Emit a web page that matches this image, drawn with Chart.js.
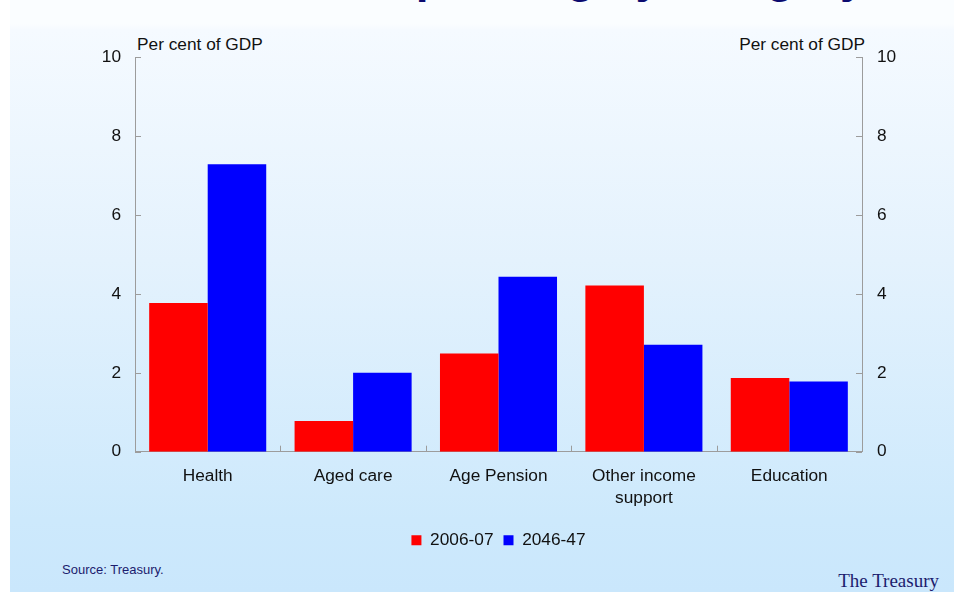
<!DOCTYPE html>
<html>
<head>
<meta charset="utf-8">
<script src="https://cdn.jsdelivr.net/npm/chart.js@4/dist/chart.umd.min.js"></script>
<style>
  html, body { margin: 0; padding: 0; background: #ffffff; }
  #page {
    position: relative; width: 954px; height: 592px; overflow: hidden;
    background: #ffffff;
  }
  #panel {
    position: absolute; left: 10px; top: 0; width: 944px; height: 592px;
    background: linear-gradient(to bottom, #fafdff 0px, #fafdff 24px, #f5faff 30px, #e4f2fd 260px, #cde9fc 520px, #cae7fc 592px);
  }
  #title {
    position: absolute; left: 0; width: 954px; top: -51px; text-align: center;
    font: bold 46px "Liberation Sans", Arial, sans-serif; color: #0b0b70;
    white-space: nowrap; padding-left: 18px; box-sizing: border-box;
  }
  .unit {
    position: absolute; top: 34px; font: 17.3px "Liberation Sans", Arial, sans-serif; color: #111;
    white-space: nowrap;
  }
  #unitL { left: 137px; }
  #unitR { right: 89px; }
  #source {
    position: absolute; left: 62px; top: 562px; font: 13px "Liberation Sans", Arial, sans-serif;
    color: #1c1c6e; white-space: nowrap;
  }
  #brand {
    position: absolute; right: 15px; top: 570px; font: 19px "Liberation Serif", "Times New Roman", serif;
    color: #1c1c6e; white-space: nowrap;
  }
  #wrap { position: absolute; left: 0; top: 0; width: 954px; height: 592px; }
</style>
</head>
<body>
<div id="page">
  <div id="panel"></div>
  <div id="title">Government spending by category</div>
  <div class="unit" id="unitL">Per cent of GDP</div>
  <div class="unit" id="unitR">Per cent of GDP</div>
  <div id="source">Source: Treasury.</div>
  <div id="brand">The Treasury</div>
  <div id="wrap"><canvas id="chart" width="954" height="592"></canvas></div>
</div>
<script>
// Spending as a share of GDP, by category
const categories = ['Health', 'Aged care', 'Age Pension', ['Other income', 'support'], 'Education'];
const seriesNames = ['2006-07', '2046-47'];
const spend2006 = [3.77, 0.78, 2.49, 4.21, 1.87];
const spend2046 = [7.28, 2.00, 4.43, 2.71, 1.78];
const yTicks = [0, 2, 4, 6, 8, 10];

const AXIS_GREY = '#9c9c9c';
const FONT = '"Liberation Sans", Arial, sans-serif';
const FONT_SIZE = 17.3;

// Short tick marks that point into the plot area
const innerTicks = {
  id: 'innerTicks',
  afterDatasetsDraw(chart) {
    const { ctx, chartArea: a, scales } = chart;
    const len = 6;
    ctx.save();
    ctx.strokeStyle = AXIS_GREY;
    ctx.lineWidth = 1;
    ctx.beginPath();
    yTicks.forEach(v => {
      const yl = Math.round(scales.y.getPixelForValue(v)) + 0.5;
      ctx.moveTo(a.left, yl); ctx.lineTo(a.left + len, yl);
      const yr = Math.round(scales.y2.getPixelForValue(v)) + 0.5;
      ctx.moveTo(a.right, yr); ctx.lineTo(a.right - len, yr);
    });
    for (let i = 0; i < categories.length - 1; i++) {
      const x = Math.round((scales.x.getPixelForValue(i) + scales.x.getPixelForValue(i + 1)) / 2) + 0.5;
      ctx.moveTo(x, a.bottom); ctx.lineTo(x, a.bottom - len);
    }
    ctx.stroke();
    ctx.restore();
  }
};

new Chart(document.getElementById('chart'), {
  type: 'bar',
  data: {
    labels: categories,
    datasets: [
      { label: seriesNames[0], data: spend2006, backgroundColor: '#ff0000', yAxisID: 'y' },
      { label: seriesNames[1], data: spend2046, backgroundColor: '#0000ff', yAxisID: 'y' }
    ]
  },
  options: {
    responsive: false,
    animation: false,
    devicePixelRatio: 1,
    categoryPercentage: 0.805,
    barPercentage: 1.0,
    layout: { padding: { left: 95, right: 52, top: 57, bottom: 33 } },
    plugins: {
      tooltip: { enabled: false },
      title: { display: false },
      legend: {
        position: 'bottom',
        labels: {
          boxWidth: 10, boxHeight: 10, padding: 10,
          color: '#111', font: { family: FONT, size: FONT_SIZE }
        }
      }
    },
    scales: {
      x: {
        grid: { display: false, drawTicks: false },
        border: { display: true, color: AXIS_GREY, width: 1 },
        ticks: { color: '#111', padding: 13, maxRotation: 0, autoSkip: false,
                 font: { family: FONT, size: FONT_SIZE, lineHeight: 1.3 } },
        afterFit(s) { s.height = 70; }
      },
      y: {
        position: 'left', min: 0, max: 10,
        grid: { display: false, drawTicks: false },
        border: { display: true, color: AXIS_GREY, width: 1 },
        ticks: { stepSize: 2, color: '#111', padding: 14, font: { family: FONT, size: FONT_SIZE } },
        afterFit(s) { s.width = 40; }
      },
      y2: {
        position: 'right', min: 0, max: 10,
        grid: { display: false, drawTicks: false },
        border: { display: true, color: AXIS_GREY, width: 1 },
        ticks: { stepSize: 2, color: '#111', padding: 15, font: { family: FONT, size: FONT_SIZE } },
        afterFit(s) { s.width = 40; }
      }
    }
  },
  plugins: [innerTicks]
});
</script>
</body>
</html>
